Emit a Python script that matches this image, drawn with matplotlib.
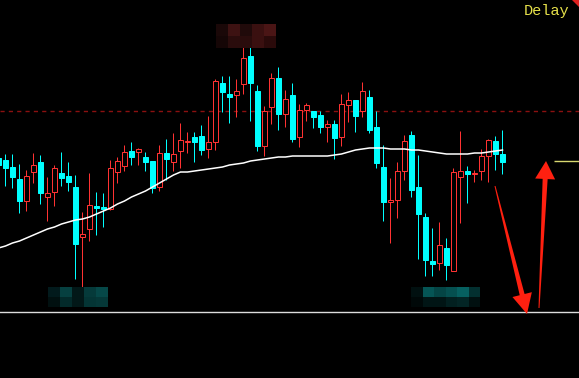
import numpy as np
import matplotlib.pyplot as plt
from matplotlib.patches import Rectangle, Polygon

# daily bars (price units)
opens = [24.2, 24.0, 23.3, 22.1, 19.9, 22.8, 23.8, 20.3, 20.8, 22.7,
         22.4, 21.3, 16.3, 17.1, 19.4, 19.3, 19.1, 22.8, 23.4, 24.9,
         24.8, 24.3, 23.9, 21.3, 24.7, 23.8, 24.9, 25.8, 26.3, 26.4,
         25.1, 25.8, 31.7, 30.6, 30.5, 31.6, 34.4, 30.9, 25.4, 29.3,
         32.2, 28.6, 30.5, 26.3, 29.0, 28.9, 28.5, 27.3, 27.6, 26.3,
         29.5, 30.0, 28.9, 30.3, 27.3, 23.3, 19.8, 20.0, 22.9, 26.5,
         21.3, 18.3, 13.9, 13.7, 15.2, 12.9, 22.3, 22.9, 22.6, 22.9,
         24.4, 25.9, 24.6]
highs = [24.7, 24.6, 24.6, 23.6, 23.0, 24.7, 24.5, 22.3, 23.5, 24.8,
         23.8, 22.5, 18.8, 22.7, 20.8, 20.7, 24.0, 24.3, 25.5, 25.8,
         25.2, 24.8, 23.9, 25.5, 26.1, 26.7, 27.7, 26.8, 26.8, 27.5,
         28.4, 32.1, 32.4, 32.4, 32.1, 35.3, 35.4, 31.5, 29.4, 32.7,
         33.3, 31.0, 31.7, 29.6, 29.7, 28.9, 28.9, 28.0, 28.0, 30.6,
         30.8, 30.0, 31.8, 31.0, 28.9, 25.5, 22.2, 23.8, 26.5, 26.9,
         24.5, 18.7, 17.2, 17.8, 16.2, 23.2, 26.9, 23.4, 23.0, 25.1,
         26.1, 26.4, 27.0]
lows = [22.8, 21.4, 21.2, 18.7, 18.9, 21.7, 19.6, 17.9, 19.4, 21.4,
        20.9, 12.1, 11.2, 15.9, 16.5, 17.3, 19.0, 21.7, 22.9, 23.5,
        23.5, 22.9, 20.7, 20.9, 22.0, 22.9, 23.2, 24.7, 23.8, 24.5,
        24.2, 25.0, 28.8, 27.7, 28.3, 30.6, 27.9, 24.9, 24.4, 27.6,
        27.0, 27.3, 25.8, 25.3, 27.9, 27.2, 26.7, 25.8, 24.1, 25.4,
        27.8, 26.8, 28.3, 26.7, 23.2, 17.9, 15.7, 18.2, 22.0, 20.3,
        14.1, 12.4, 12.4, 13.0, 12.0, 12.9, 17.7, 19.7, 21.8, 22.0,
        21.8, 23.0, 22.6]
closes = [23.5, 23.2, 22.3, 19.9, 22.4, 23.5, 20.7, 20.7, 23.2, 22.2,
          21.8, 15.6, 16.6, 19.5, 19.2, 19.1, 23.2, 23.9, 24.8, 24.3,
          25.1, 23.8, 21.2, 24.7, 24.1, 24.6, 26.0, 25.9, 25.8, 25.0,
          25.8, 31.9, 30.8, 30.3, 30.9, 34.2, 31.7, 25.4, 28.9, 32.2,
          28.6, 30.1, 26.1, 29.0, 29.5, 28.3, 27.3, 27.6, 26.2, 29.6,
          30.0, 28.4, 30.9, 27.0, 23.7, 19.8, 20.0, 22.9, 25.9, 21.0,
          18.6, 14.0, 13.6, 15.5, 13.5, 22.8, 22.9, 22.6, 22.7, 24.4,
          26.0, 24.6, 23.8]
ma = [15.2, 15.4, 15.7, 15.9, 16.2, 16.5, 16.8, 17.1, 17.3, 17.6,
      17.8, 18.0, 18.1, 18.3, 18.6, 18.9, 19.2, 19.6, 19.9, 20.3,
      20.6, 20.9, 21.3, 21.7, 22.1, 22.5, 22.8, 22.8, 22.9, 23.0,
      23.1, 23.2, 23.3, 23.5, 23.6, 23.7, 23.9, 24.0, 24.1, 24.2,
      24.3, 24.3, 24.4, 24.4, 24.4, 24.4, 24.4, 24.4, 24.5, 24.6,
      24.8, 25.0, 25.1, 25.2, 25.2, 25.2, 25.1, 25.1, 25.1, 25.0,
      25.0, 24.9, 24.8, 24.7, 24.6, 24.6, 24.6, 24.6, 24.7, 24.7,
      24.8, 24.9, 25.0]
ref_high = 28.9   # dashed level
ref_low = 8.8     # bottom level
last_mark = 23.9  # short level at right edge

up_c = '#FF3232'
dn_c = '#00FFFF'
px = 0.72  # one pixel in points at dpi 100

fig = plt.figure(figsize=(5.79, 3.78), dpi=100, facecolor='black')
ax = fig.add_axes([0, 0, 1, 1], facecolor='black')
ax.set_xlim(1.5 / 7, 580.5 / 7)
ax.set_ylim(2.2, 40.0)
ax.axis('off')

w = 0.72
for i, (o, h, l, c) in enumerate(zip(opens, highs, lows, closes)):
    if c >= o:
        ax.vlines(i, l, h, color=up_c, lw=px, zorder=2)
        ax.add_patch(Rectangle((i - w / 2, o), w, c - o, facecolor='black',
                               edgecolor=up_c, lw=px, zorder=3))
    else:
        ax.vlines(i, l, h, color=dn_c, lw=px, zorder=2)
        ax.add_patch(Rectangle((i - w / 2, c), w, o - c, facecolor=dn_c,
                               edgecolor=dn_c, lw=px, zorder=3))

ax.plot(range(len(ma)), ma, color='white', lw=1.1, zorder=4)
ax.axhline(ref_high, color='#8B1010', lw=1, ls=(0, (3, 3)), zorder=1)
ax.axhline(ref_low, color='#DDDDDD', lw=1, zorder=1)
ax.hlines(last_mark, 554 / 7 + 0.2, 82.93, color='#D8D870', lw=1)

# overlay in pixel coords for annotations
ov = fig.add_axes([0, 0, 1, 1], facecolor='none')
ov.set_xlim(0, 579)
ov.set_ylim(378, 0)
ov.axis('off')

def mosaic(x0, y0, bw, bh, cols):
    for r, row in enumerate(cols):
        for k, col in enumerate(row):
            ov.add_patch(Rectangle((x0 + k * bw, y0 + r * bh), bw, bh,
                                   facecolor=col, lw=0, zorder=5))

mosaic(216, 24, 12, 12, [['#1a0808', '#3d1212', '#200a0a', '#3a1010', '#4a1515'],
                         ['#150606', '#2a0c0c', '#2a0c0c', '#3a1010', '#2a0a0a']])
mosaic(48, 287, 12, 10, [['#021a1c', '#064040', '#021818', '#053a3a', '#064848'],
                         ['#011010', '#032a2a', '#021818', '#043535', '#053838']])
mosaic(411, 287, 11.5, 10, [['#011010', '#055555', '#044545', '#055050', '#066060', '#033030'],
                            ['#000808', '#011515', '#011515', '#022020', '#032525', '#011010']])

def arrow(tail, tip, w0, w1, hl, hw):
    t = np.array(tail, float)
    p = np.array(tip, float)
    d = (p - t) / np.linalg.norm(p - t)
    n = np.array([-d[1], d[0]])
    base = p - d * hl
    pts = [t + n * w0 / 2, base + n * w1 / 2, base + n * hw / 2, p,
           base - n * hw / 2, base - n * w1 / 2, t - n * w0 / 2]
    ov.add_patch(Polygon(pts, closed=True, facecolor='#FF2010',
                         edgecolor='none', zorder=6))

arrow((495, 186), (527, 314), 1, 5, 20, 20)
arrow((539, 308), (546, 161), 1, 5, 18, 20)

ov.add_patch(Polygon([(572, 0), (579, 0), (579, 7)], facecolor='#E02020', zorder=6))
ov.text(524, 11, 'Delay', color='#E6E04A', fontsize=11,
        family='Liberation Mono', va='center', ha='left', zorder=6)

fig.savefig('out.png', dpi=100, facecolor='black')
